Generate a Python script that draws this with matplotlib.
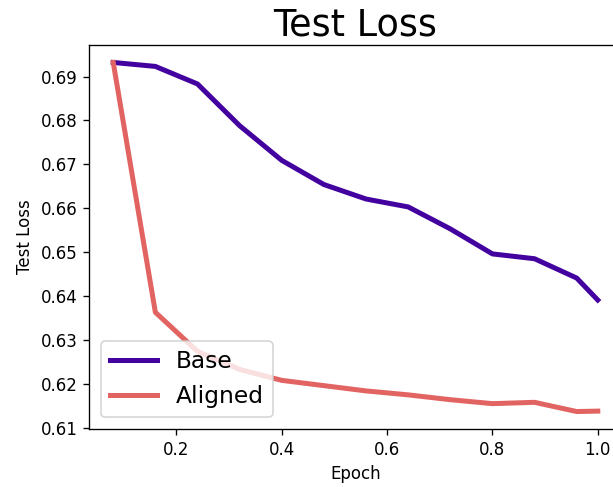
import matplotlib
matplotlib.use("Agg")
import matplotlib.pyplot as plt

# fraction of an epoch at each evaluation
epochs = [0.08, 0.16, 0.24, 0.32, 0.40, 0.48, 0.56, 0.64, 0.72, 0.80, 0.88, 0.96, 1.00]
base_loss = [0.6932, 0.6923, 0.6883, 0.6788, 0.6709, 0.6654, 0.6621, 0.6603,
             0.6553, 0.6496, 0.6485, 0.6441, 0.6391]
aligned_loss = [0.6932, 0.6363, 0.6274, 0.6233, 0.6208, 0.6196, 0.6184, 0.6175,
                0.6164, 0.6155, 0.6158, 0.6137, 0.6138]

DPI = 120
fig = plt.figure(figsize=(613 / DPI, 487 / DPI), dpi=DPI)
# axes run a little past the right edge, as in the cropped original
ax = fig.add_axes([89 / 613, 58 / 487, 533 / 613, 384 / 487])

ax.plot(epochs, base_loss, color="#4302a0", linewidth=3, label="Base")
ax.plot(epochs, aligned_loss, color="#e26462", linewidth=3, label="Aligned")

ax.set_title("Test Loss", fontsize=22)
ax.set_xlabel("Epoch")
ax.set_ylabel("Test Loss")
ax.legend(loc="lower left", fontsize=14)

fig.savefig("out.png", dpi=DPI)
